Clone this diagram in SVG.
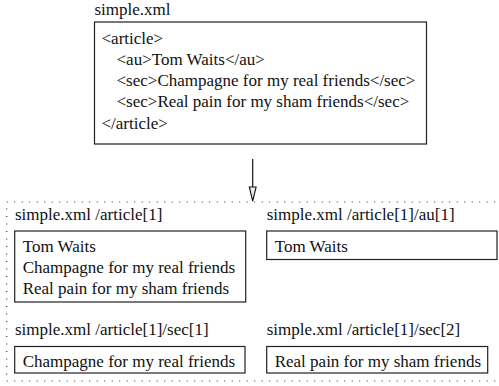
<svg xmlns="http://www.w3.org/2000/svg" width="499" height="386" viewBox="0 0 499 386">
  <style>
    text { font-family: "Liberation Serif", "Times New Roman", serif; font-size: 17px; fill: #111; }
    .box { fill: #fff; stroke: #222; stroke-width: 1.2; }
    .frame { fill: none; stroke: #333; stroke-width: 1.2; stroke-dasharray: 1 6.5; }
    .edge { stroke: #111; stroke-width: 1.2; fill: none; }
    .head { fill: #eeeedd; stroke: #111; stroke-width: 1.1; }
  </style>

  <!-- source document -->
  <g id="source">
    <text x="94.5" y="15">simple.xml</text>
    <rect class="box" x="94.5" y="22" width="332" height="122"/>
    <text x="101.5" y="43.5">&lt;article&gt;</text>
    <text x="116.5" y="64.8">&lt;au&gt;Tom Waits&lt;/au&gt;</text>
    <text x="116.5" y="86">&lt;sec&gt;Champagne for my real friends&lt;/sec&gt;</text>
    <text x="116.5" y="107.3">&lt;sec&gt;Real pain for my sham friends&lt;/sec&gt;</text>
    <text x="101.5" y="128.5">&lt;/article&gt;</text>
  </g>

  <!-- connectors -->
  <g id="connectors">
    <line class="edge" x1="252.7" y1="159" x2="252.7" y2="187"/>
    <path class="head" d="M249.3,187 L256.1,187 L252.7,201 Z"/>
  </g>

  <!-- result fragments -->
  <g id="results">
    <rect class="frame" x="6.7" y="202" width="496" height="179"/>
  </g>

  <g id="frag-article">
    <text x="15" y="220">simple.xml /article[1]</text>
    <rect class="box" x="14.7" y="231" width="231" height="71"/>
    <text x="22.7" y="251.7">Tom Waits</text>
    <text x="22.7" y="272.9">Champagne for my real friends</text>
    <text x="22.7" y="294.1">Real pain for my sham friends</text>
  </g>

  <g id="frag-au">
    <text x="266.7" y="220">simple.xml /article[1]/au[1]</text>
    <rect class="box" x="266.7" y="231" width="230.3" height="28.5"/>
    <text x="274.7" y="251.7">Tom Waits</text>
  </g>

  <g id="frag-sec1">
    <text x="15" y="335">simple.xml /article[1]/sec[1]</text>
    <rect class="box" x="14.7" y="346.5" width="230.3" height="26.5"/>
    <text x="22.7" y="366.5">Champagne for my real friends</text>
  </g>

  <g id="frag-sec2">
    <text x="266.7" y="335">simple.xml /article[1]/sec[2]</text>
    <rect class="box" x="266.7" y="346.5" width="221" height="26.5"/>
    <text x="274.7" y="366.5">Real pain for my sham friends</text>
  </g>
</svg>
